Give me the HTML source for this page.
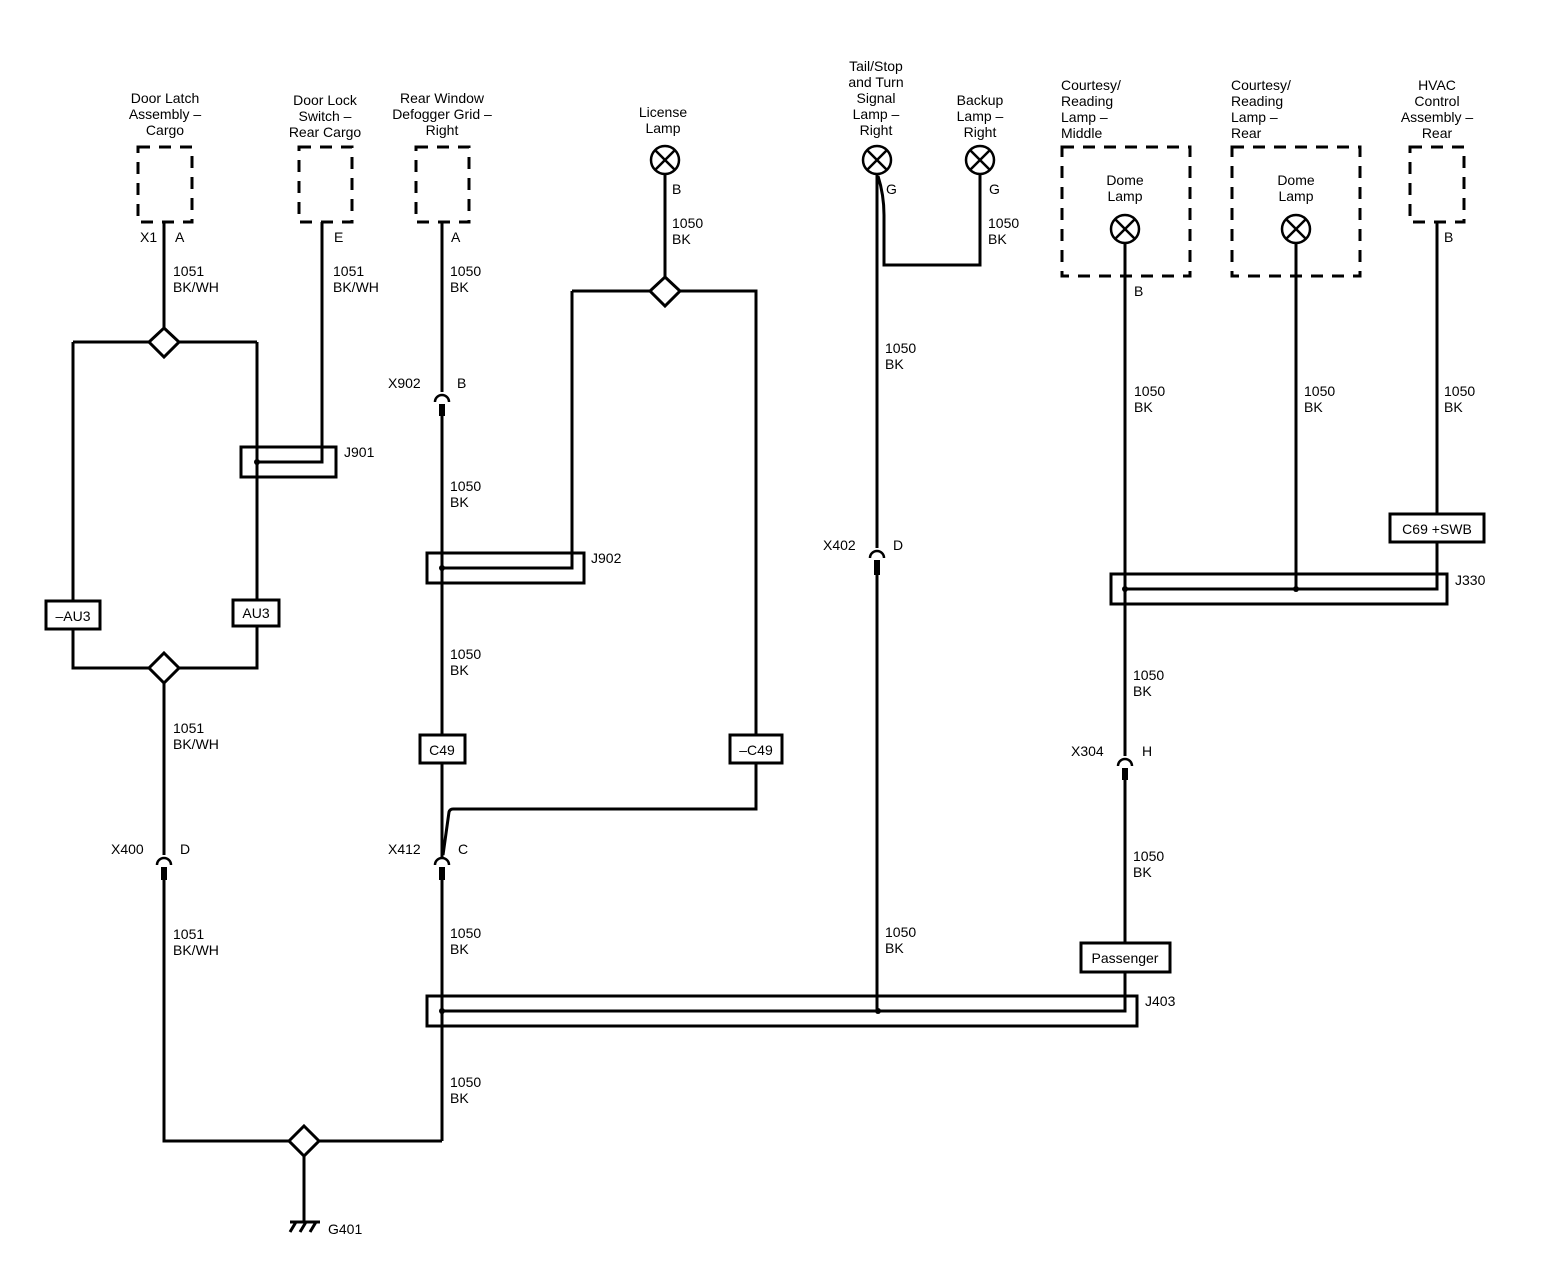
<!DOCTYPE html>
<html><head><style>
html,body{margin:0;padding:0;background:#fff}
svg{display:block}
text{font-family:"Liberation Sans",sans-serif;font-size:14px;fill:#000}
.c{text-anchor:middle}
</style></head><body>
<svg width="1548" height="1264" viewBox="0 0 1548 1264" xmlns="http://www.w3.org/2000/svg">
<g fill="none" stroke="#000" stroke-width="3">
<g stroke-dasharray="12 9">
<rect x="138" y="147" width="54" height="75"/>
<rect x="299" y="147" width="53" height="75"/>
<rect x="416" y="147" width="53" height="75"/>
<rect x="1062" y="147" width="128" height="129"/>
<rect x="1232" y="147" width="128" height="129"/>
<rect x="1410" y="147" width="54" height="75"/>
</g>
<path d="M164 222V328"/>
<path d="M73 342H149M179 342H257"/>
<path d="M73 342V601M73 629V668H149"/>
<path d="M257 342V600M257 626V668H179"/>
<path d="M164 683V855"/>
<path d="M164 880V1141H290M318 1141H442"/>
<path d="M304 1156V1222"/>
<path d="M322 222V462H257"/>
<rect x="241" y="447" width="95" height="30"/>
<rect x="46" y="601" width="54" height="28"/>
<rect x="233" y="600" width="46" height="26"/>
<path d="M442 222V392"/>
<path d="M442 412V735M442 763V857"/>
<path d="M443 855L449 812Q450 809 453 809H756V763"/>
<path d="M442 880V1141"/>
<path d="M572 291V568H442"/>
<rect x="427" y="553" width="157" height="30"/>
<rect x="420" y="735" width="45" height="28"/>
<rect x="730" y="735" width="52" height="28"/>
<path d="M665 174V277"/>
<path d="M572 291H651M679 291H756V735"/>
<path d="M877 174V548"/>
<path d="M877 575V1011"/>
<path d="M878 176Q884 195 884 215V265H980V174"/>
<path d="M1125 243V756M1125 780V943"/>
<path d="M1296 243V589"/>
<path d="M1437 222V514M1437 542V589H1125"/>
<rect x="1111" y="574" width="336" height="30"/>
<rect x="1390" y="514" width="94" height="28"/>
<rect x="1081" y="943" width="89" height="29"/>
<path d="M1125 972V1011H442"/>
<rect x="427" y="996" width="710" height="30"/>
<path d="M164 328L179 342L164 357L149 342Z"/>
<path d="M164 653L179 668L164 683L149 668Z"/>
<path d="M665 277L680 291L665 306L650 291Z"/>
<path d="M304 1126L319 1141L304 1156L289 1141Z"/>
<g stroke-width="2.5">
<circle cx="665" cy="160" r="14"/><path d="M655 150L675 170M675 150L655 170"/>
<circle cx="877" cy="160" r="14"/><path d="M867 150L887 170M887 150L867 170"/>
<circle cx="980" cy="160" r="14"/><path d="M970 150L990 170M990 150L970 170"/>
<circle cx="1125" cy="229" r="14"/><path d="M1115 219L1135 239M1135 219L1115 239"/>
<circle cx="1296" cy="229" r="14"/><path d="M1286 219L1306 239M1306 219L1286 239"/>
</g>
<g stroke-width="2.5">
<path d="M157 865A7 7 0 0 1 171 865"/>
<path d="M435 402A7 7 0 0 1 449 402"/>
<path d="M435 865A7 7 0 0 1 449 865"/>
<path d="M870 558A7 7 0 0 1 884 558"/>
<path d="M1118 766A7 7 0 0 1 1132 766"/>
</g>
<path d="M290 1222H320M290 1232L296 1222M300 1232L306 1222M310 1232L316 1222"/>
</g>
<g fill="#000">
<rect x="161" y="867" width="6" height="13"/>
<rect x="439" y="404" width="6" height="12"/>
<rect x="439" y="867" width="6" height="13"/>
<rect x="874" y="560" width="6" height="15"/>
<rect x="1122" y="768" width="6" height="12"/>
<circle cx="257" cy="462" r="3"/>
<circle cx="442" cy="568" r="3"/>
<circle cx="442" cy="1011" r="3"/>
<circle cx="878" cy="1011" r="3"/>
<circle cx="1125" cy="589" r="3"/>
<circle cx="1296" cy="589" r="3"/>
</g>
<text class="c" x="165" y="103">Door Latch</text><text class="c" x="165" y="119">Assembly –</text><text class="c" x="165" y="135">Cargo</text>
<text class="c" x="325" y="105">Door Lock</text><text class="c" x="325" y="121">Switch –</text><text class="c" x="325" y="137">Rear Cargo</text>
<text class="c" x="442" y="103">Rear Window</text><text class="c" x="442" y="119">Defogger Grid –</text><text class="c" x="442" y="135">Right</text>
<text class="c" x="663" y="117">License</text><text class="c" x="663" y="133">Lamp</text>
<text class="c" x="876" y="71">Tail/Stop</text><text class="c" x="876" y="87">and Turn</text><text class="c" x="876" y="103">Signal</text><text class="c" x="876" y="119">Lamp –</text><text class="c" x="876" y="135">Right</text>
<text class="c" x="980" y="105">Backup</text><text class="c" x="980" y="121">Lamp –</text><text class="c" x="980" y="137">Right</text>
<text x="1061" y="90">Courtesy/</text><text x="1061" y="106">Reading</text><text x="1061" y="122">Lamp –</text><text x="1061" y="138">Middle</text>
<text x="1231" y="90">Courtesy/</text><text x="1231" y="106">Reading</text><text x="1231" y="122">Lamp –</text><text x="1231" y="138">Rear</text>
<text class="c" x="1437" y="90">HVAC</text><text class="c" x="1437" y="106">Control</text><text class="c" x="1437" y="122">Assembly –</text><text class="c" x="1437" y="138">Rear</text>
<text class="c" x="1125" y="185">Dome</text><text class="c" x="1125" y="201">Lamp</text>
<text class="c" x="1296" y="185">Dome</text><text class="c" x="1296" y="201">Lamp</text>
<text x="140" y="242">X1</text><text x="175" y="242">A</text>
<text x="334" y="242">E</text>
<text x="451" y="242">A</text>
<text x="672" y="194">B</text>
<text x="886" y="194">G</text>
<text x="989" y="194">G</text>
<text x="1134" y="296">B</text>
<text x="1444" y="242">B</text>
<text x="173" y="276">1051</text><text x="173" y="292">BK/WH</text>
<text x="333" y="276">1051</text><text x="333" y="292">BK/WH</text>
<text x="450" y="276">1050</text><text x="450" y="292">BK</text>
<text x="672" y="228">1050</text><text x="672" y="244">BK</text>
<text x="988" y="228">1050</text><text x="988" y="244">BK</text>
<text x="885" y="353">1050</text><text x="885" y="369">BK</text>
<text x="1134" y="396">1050</text><text x="1134" y="412">BK</text>
<text x="1304" y="396">1050</text><text x="1304" y="412">BK</text>
<text x="1444" y="396">1050</text><text x="1444" y="412">BK</text>
<text x="450" y="491">1050</text><text x="450" y="507">BK</text>
<text x="450" y="659">1050</text><text x="450" y="675">BK</text>
<text x="1133" y="680">1050</text><text x="1133" y="696">BK</text>
<text x="173" y="733">1051</text><text x="173" y="749">BK/WH</text>
<text x="1133" y="861">1050</text><text x="1133" y="877">BK</text>
<text x="173" y="939">1051</text><text x="173" y="955">BK/WH</text>
<text x="450" y="938">1050</text><text x="450" y="954">BK</text>
<text x="885" y="937">1050</text><text x="885" y="953">BK</text>
<text x="450" y="1087">1050</text><text x="450" y="1103">BK</text>
<text x="388" y="388">X902</text><text x="457" y="388">B</text>
<text x="111" y="854">X400</text><text x="180" y="854">D</text>
<text x="388" y="854">X412</text><text x="458" y="854">C</text>
<text x="823" y="550">X402</text><text x="893" y="550">D</text>
<text x="1071" y="756">X304</text><text x="1142" y="756">H</text>
<text x="344" y="457">J901</text>
<text x="591" y="563">J902</text>
<text x="1455" y="585">J330</text>
<text x="1145" y="1006">J403</text>
<text x="328" y="1234">G401</text>
<text class="c" x="73" y="621">–AU3</text>
<text class="c" x="256" y="618">AU3</text>
<text class="c" x="442" y="755">C49</text>
<text class="c" x="756" y="755">–C49</text>
<text class="c" x="1437" y="534">C69 +SWB</text>
<text class="c" x="1125" y="963">Passenger</text>
</svg>
</body></html>
